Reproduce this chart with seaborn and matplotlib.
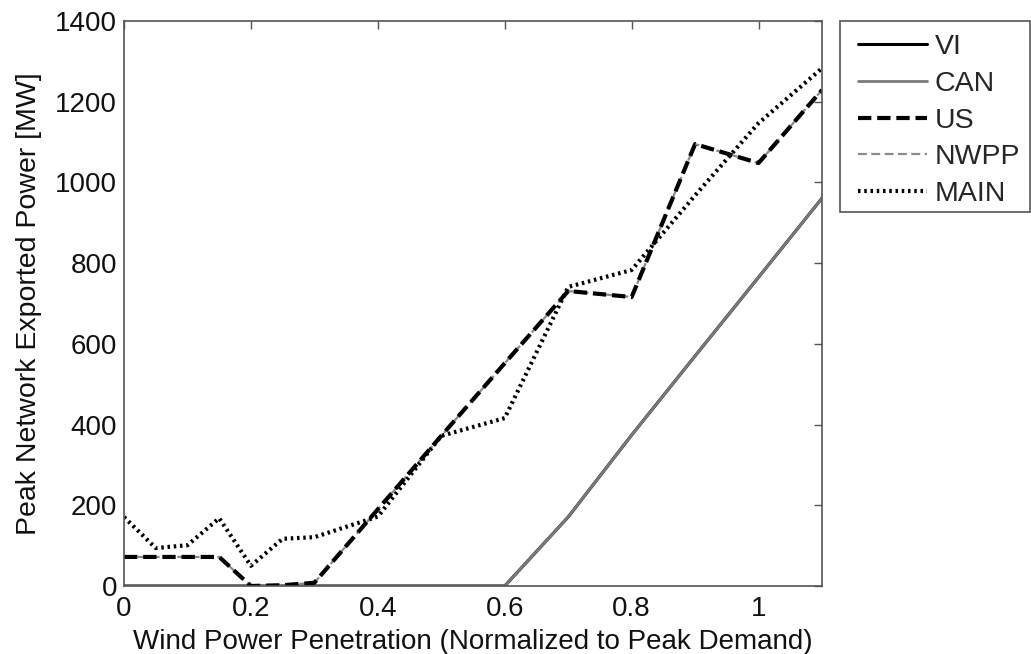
import matplotlib
matplotlib.use("Agg")
import matplotlib.pyplot as plt
import matplotlib.patches as mpatches
import seaborn as sns
import pandas as pd

# ---- data ----
penetration = [0.0, 0.05, 0.10, 0.15, 0.20, 0.25, 0.30, 0.40, 0.50, 0.60, 0.70, 0.80, 0.90, 1.00, 1.10]
vi_mw   = [0, 0, 0, 0, 0, 0, 0, 0, 0, 0, 171, 374, 570, 765, 961]
can_mw  = [0, 0, 0, 0, 0, 0, 0, 0, 0, 0, 171, 374, 570, 765, 961]
us_mw   = [72, 72, 72, 72, 0, 2, 8, 190, 372, 552, 731, 716, 1095, 1048, 1229]
nwpp_mw = [72, 72, 72, 72, 0, 2, 8, 190, 372, 552, 731, 716, 1095, 1048, 1229]
main_mw = [171, 94, 101, 168, 50, 117, 121, 172, 372, 416, 741, 783, 968, 1147, 1283]

series_names = ["VI", "CAN", "US", "NWPP", "MAIN"]
series_vals = [vi_mw, can_mw, us_mw, nwpp_mw, main_mw]

xticks = [0, 0.2, 0.4, 0.6, 0.8, 1.0]
xtick_labels = ["0", "0.2", "0.4", "0.6", "0.8", "1"]
yticks = [0, 200, 400, 600, 800, 1000, 1200, 1400]

# ---- styling ----
sns.set_style("white")
plt.rcParams["font.family"] = ["Liberation Sans", "DejaVu Sans"]

styles = {
    "VI":   dict(color="black",   lw=2.2, ls="-"),
    "CAN":  dict(color="#7a7a7a", lw=2.0, ls="-"),
    "US":   dict(color="black",   lw=3.0, ls=(0, (3.2, 1.4))),
    "NWPP": dict(color="#8a8a8a", lw=1.6, ls=(0, (4, 2))),
    "MAIN": dict(color="black",   lw=3.0, ls=(0, (0.6, 0.9))),
}

W, H = 1031, 654
fig = plt.figure(figsize=(W / 100, H / 100), dpi=100)
ax = fig.add_axes([124 / W, 1 - 586 / H, (822 - 124) / W, (586 - 21) / H])

rows = []
for name, vals in zip(series_names, series_vals):
    for x, y in zip(penetration, vals):
        rows.append({"x": x, "y": y, "series": name})
df = pd.DataFrame(rows)

# draw order: VI under CAN, NWPP under US
order = ["VI", "CAN", "NWPP", "US", "MAIN"]
handles = {}
for name in order:
    st = styles[name]
    sub = df[df["series"] == name]
    sns.lineplot(data=sub, x="x", y="y", ax=ax, color=st["color"], lw=st["lw"],
                 linestyle=st["ls"], label=name, legend=False, sort=False)
    handles[name] = ax.lines[-1]

ax.set_xlim(0, 1.1)
ax.set_ylim(0, 1400)
ax.set_xticks(xticks)
ax.set_xticklabels(xtick_labels)
ax.set_yticks(yticks)
ax.tick_params(axis="both", direction="in", length=6, width=1, colors="#555555",
               labelcolor="#111111", labelsize=20, top=True, right=True)
ax.tick_params(axis="x", pad=7)
ax.tick_params(axis="y", pad=5)
for sp in ax.spines.values():
    sp.set_color("#555555")
    sp.set_linewidth(1.2)

ax.set_xlabel("Wind Power Penetration (Normalized to Peak Demand)", fontsize=20, color="#111111", labelpad=5)
ax.set_ylabel("Peak Network Exported Power [MW]", fontsize=20.5, color="#111111")
ax.yaxis.set_label_coords(-0.1175, 0.5)

leg = ax.legend([handles[n] for n in series_names], series_names,
                loc="upper left", bbox_to_anchor=(858 / W, 1 - 34 / H),
                bbox_transform=fig.transFigure, fontsize=20.5, frameon=False,
                handlelength=2.42, handletextpad=0.28, labelspacing=0.38,
                borderpad=0, borderaxespad=0)

frame = mpatches.Rectangle((840 / W, 1 - 212 / H), 190 / W, 191 / H,
                           transform=fig.transFigure, fill=False,
                           edgecolor="#555555", linewidth=1.2)
fig.add_artist(frame)

fig.savefig("out.png", dpi=100)
